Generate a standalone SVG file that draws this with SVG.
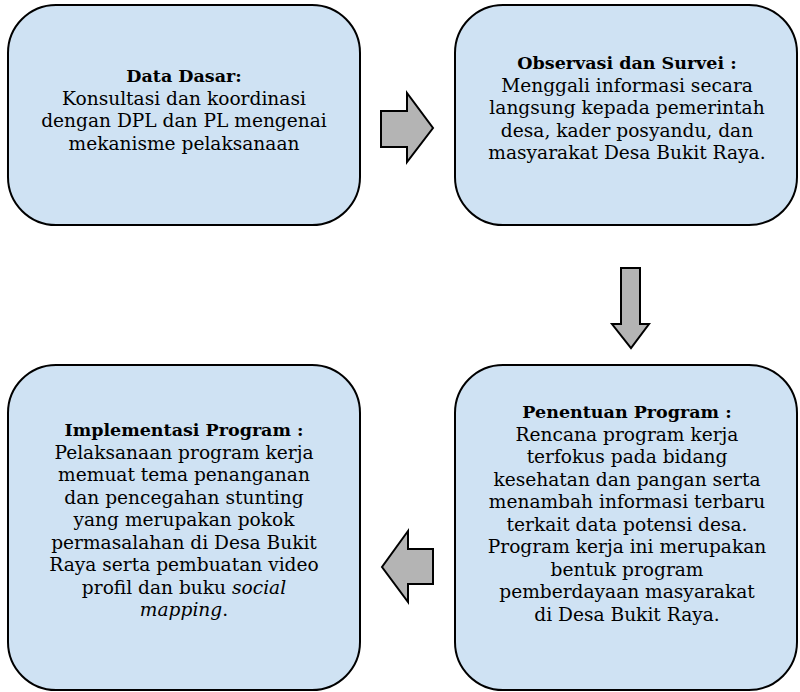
<svg xmlns="http://www.w3.org/2000/svg" width="800" height="692" viewBox="0 0 800 692">
<style>
.box{fill:#cfe2f3;stroke:#000;stroke-width:2}
.arr{fill:#b4b4b4;stroke:#000;stroke-width:2;stroke-linejoin:miter}
text{font-family:"DejaVu Serif","Liberation Serif",serif;font-size:18.6px;fill:#000;text-anchor:middle}
.t{font-weight:bold;font-size:17.5px}
</style>
<rect width="800" height="692" fill="#fff"/>
<g id="node-data-dasar">
<rect class="box" x="8" y="5" width="352" height="220" rx="48" ry="48"/>
<text x="184"><tspan class="t" x="184" y="82">Data Dasar:</tspan><tspan x="184" y="104.5">Konsultasi dan koordinasi</tspan><tspan x="184" y="127">dengan DPL dan PL mengenai</tspan><tspan x="184" y="149.5">mekanisme pelaksanaan</tspan></text>
</g>
<g id="node-observasi">
<rect class="box" x="455" y="5" width="342" height="220" rx="48" ry="48"/>
<text x="627"><tspan class="t" x="627" y="69">Observasi dan Survei :</tspan><tspan x="627" y="91.5">Menggali informasi secara</tspan><tspan x="627" y="114">langsung kepada pemerintah</tspan><tspan x="627" y="136.5">desa, kader posyandu, dan</tspan><tspan x="627" y="159">masyarakat Desa Bukit Raya.</tspan></text>
</g>
<g id="node-implementasi">
<rect class="box" x="8" y="365" width="352" height="325" rx="48" ry="48"/>
<text x="184"><tspan class="t" x="184" y="436">Implementasi Program :</tspan><tspan x="184" y="458.5">Pelaksanaan program kerja</tspan><tspan x="184" y="481">memuat tema penanganan</tspan><tspan x="184" y="503.5">dan pencegahan stunting</tspan><tspan x="184" y="526">yang merupakan pokok</tspan><tspan x="184" y="548.5">permasalahan di Desa Bukit</tspan><tspan x="184" y="571">Raya serta pembuatan video</tspan><tspan x="184" y="593.5">profil dan buku <tspan font-style="italic">social</tspan></tspan><tspan x="184" y="616"><tspan font-style="italic">mapping</tspan>.</tspan></text>
</g>
<g id="node-penentuan">
<rect class="box" x="455" y="365" width="342" height="325" rx="48" ry="48"/>
<text x="627"><tspan class="t" x="627" y="418">Penentuan Program :</tspan><tspan x="627" y="440.5">Rencana program kerja</tspan><tspan x="627" y="463">terfokus pada bidang</tspan><tspan x="627" y="485.5">kesehatan dan pangan serta</tspan><tspan x="627" y="508">menambah informasi terbaru</tspan><tspan x="627" y="530.5">terkait data potensi desa.</tspan><tspan x="627" y="553">Program kerja ini merupakan</tspan><tspan x="627" y="575.5">bentuk program</tspan><tspan x="627" y="598">pemberdayaan masyarakat</tspan><tspan x="627" y="620.5">di Desa Bukit Raya.</tspan></text>
</g>
<g id="connectors">
<polygon class="arr" points="381,111 407,111 407,93 433,128 407,162 407,147 381,147"/>
<polygon class="arr" points="621,268 640,268 640,324 649,324 631,348 612,324 621,324"/>
<polygon class="arr" points="433,549 408,549 408,531 382,567 408,602 408,584 433,584"/>
</g>
</svg>
